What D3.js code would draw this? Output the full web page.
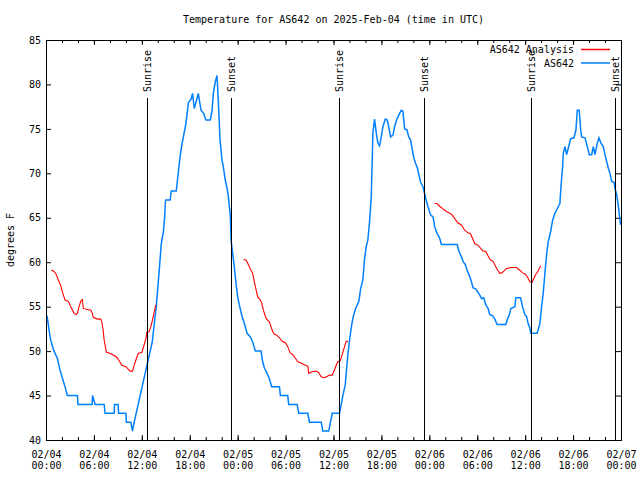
<!DOCTYPE html>
<html><head><meta charset="utf-8">
<script src="https://cdn.jsdelivr.net/npm/d3@7"></script>
<style>
body{margin:0;background:#fff}
text{font-family:"DejaVu Sans Mono",monospace;font-size:10px;fill:#000}
</style>
</head><body>
<svg id="c" width="640" height="480"></svg>
<script>
// ---- data (hours since 2025-02-04 00:00 UTC, temperature in °F) ----
const obsHours = [0.13,0.38,0.59,1.00,1.42,1.72,2.04,2.38,2.67,3.93,4.01,5.77,5.83,6.15,7.28,7.40,8.53,8.59,9.03,9.09,10.00,10.07,10.62,10.83,11.04,11.29,11.54,11.79,12.04,12.29,12.54,12.79,13.05,13.30,13.55,13.80,13.99,14.17,14.43,14.71,14.89,14.93,14.99,15.55,15.68,16.31,16.43,16.68,16.81,16.97,17.31,17.52,17.65,17.85,18.15,18.35,18.57,18.78,19.07,19.19,19.41,19.73,20.03,20.57,20.79,20.95,21.20,21.41,21.49,21.61,21.79,22.04,22.20,22.45,22.67,22.83,22.96,23.08,23.17,23.37,23.58,23.80,24.00,24.21,24.55,24.84,25.18,25.59,25.88,26.22,26.93,27.13,27.35,27.68,27.97,28.26,29.23,29.35,30.27,30.39,31.45,31.65,32.78,32.99,34.46,34.66,35.41,35.62,35.84,36.75,36.97,37.17,37.47,37.59,37.80,38.01,38.22,38.42,38.76,39.18,39.39,39.68,39.89,40.10,40.30,40.52,40.73,40.86,40.93,41.14,41.36,41.56,41.77,41.98,42.19,42.49,42.74,42.94,43.15,43.44,43.65,43.94,44.28,44.49,44.69,44.91,45.20,45.41,45.66,45.87,46.07,46.29,46.50,46.70,46.91,47.20,47.54,47.83,48.17,48.46,48.67,48.96,49.30,49.51,51.49,51.72,52.02,52.22,52.52,52.77,53.06,53.27,53.48,53.81,54.32,54.53,54.82,55.07,55.36,55.57,55.91,56.20,56.49,57.58,57.79,57.99,58.20,58.71,58.83,59.42,59.67,59.96,60.17,60.37,60.59,60.71,61.50,61.84,62.06,62.26,62.47,62.68,62.88,63.18,63.43,63.72,64.06,64.35,64.48,64.69,64.77,64.98,65.19,65.39,65.69,66.11,66.36,66.52,66.77,66.95,67.07,67.49,67.78,68.03,68.33,68.53,68.74,69.03,69.24,69.49,69.78,70.00,70.21,70.41,70.62,70.84,71.12,71.25,71.46,71.66,71.79,71.96];
const obsTemp = [54,52.4,51.2,50,49.2,48,47,46,45,45,44,44,45,44,44,43,43,44,44,43,43,42,42,41,42,43,44,45,46,47,48,49,50,51,53,55,57,59,62,63.5,65.5,66.6,67,67,68,68,69,71,72,73,74.6,75.6,76.6,78,78.3,79,77.3,78,79,78.3,77.1,76.75,76,76,77,79,80.3,81,79.7,77.5,73.75,71.5,70.75,69.25,68.3,67.4,66.25,65.3,62.5,61,59.5,57.6,56.1,55.2,53.9,53.1,52,51.6,51,50,50,48.8,48.1,47.5,46.9,46,46,45,45,44,44,43,43,42,42,41,41,42,43,43,44,45,46.2,47.5,49.6,51.25,52.6,53.7,54.8,55.6,57,58,60.4,61.75,62.5,64.6,67.4,71.9,74.5,76.1,74.5,73.4,73.1,74.1,75.25,76.1,76,75.1,74.1,74.3,75.25,76.1,76.75,77.1,77,75,74.9,74.1,73.75,72.6,71.7,71.1,70.6,69.8,69,68.5,67.2,66.25,65.3,65.1,64,63.25,62.7,62,62,61.2,60.6,60.1,59.7,59,58.4,57.8,57.1,57,56.3,55.9,56,55.2,54.8,54.1,54,53.6,53,53,53.6,54,54.8,55,56,56,55,54.1,53.9,53.1,52.6,52,52,53.1,55,56.5,58.75,60.8,62.3,63.4,64.7,65.5,66.1,66.6,68.5,70.75,72.25,73,72.1,72.8,73.9,74,74.9,77.1,77.1,74.9,74.1,74,73,72.1,72.1,73,72.1,73.4,74,73.4,73,72.1,71.3,70.6,70,69.1,69,68.3,67.6,66.4,65.3,64.2];

const ana1Hours = [0.66,1.00,1.29,1.54,1.84,2.04,2.38,2.80,3.10,3.51,3.73,3.93,4.14,4.35,4.55,4.68,5.06,5.61,5.81,5.90,6.44,6.86,6.99,7.15,7.28,7.56,8.12,8.66,8.94,9.24,9.50,10.00,10.32,10.54,10.83,11.04,11.33,11.58,12.00,12.29,12.51,12.63,12.92,13.13,13.33,13.55,13.76];
const ana1Temp = [59.1,59,58.6,58,57.4,56.7,55.75,55.6,55,54.25,54.1,54.25,55,55.6,55.8,54.8,54.7,54.6,54.25,53.8,53.6,53.6,53.3,52.4,51.25,49.9,49.7,49.45,49.2,48.8,48.4,48.25,47.95,47.75,47.75,48.4,49.2,49.75,49.85,50.7,51.4,52.1,52.2,52.75,53.5,54.4,55.2];
const ana2Hours = [24.75,25.05,25.25,25.55,25.88,26.09,26.31,26.51,26.81,27.01,27.22,27.47,27.63,27.97,28.19,28.39,28.60,28.89,29.23,29.57,29.98,30.27,30.57,30.90,31.23,31.52,31.86,32.49,32.78,32.90,33.40,33.83,34.12,34.46,34.78,35.09,35.50,35.84,36.13,36.34,36.54,36.84,37.09,37.38,37.59,37.80];
const ana2Temp = [60.3,60.25,59.9,59.3,58.75,57.8,56.9,56.1,55.8,55.4,54.6,53.9,53.6,53.3,52.7,52.2,51.9,51.8,51.5,51.1,50.95,50.5,49.8,49.6,49.2,48.8,48.7,48.4,48.3,47.5,47.7,47.75,47.6,47.1,47,47.1,47.3,47.3,47.9,48.4,48.8,48.9,49.6,50.5,51.1,51.1];
const ana3Hours = [48.67,48.96,49.30,49.71,50.14,50.55,50.89,51.18,51.59,52.02,52.43,52.85,53.15,53.40,53.69,54.10,54.40,54.65,55.07,55.36,55.66,55.98,56.20,56.49,56.82,57.04,57.33,57.66,58.29,58.92,59.33,59.67,59.96,60.25,60.59,60.88,61.09,61.30,61.55,61.84,61.97];
const ana3Temp = [66.6,66.6,66.3,66,65.7,65.5,65.3,64.9,64.4,64.2,63.6,63.3,63.2,62.7,62.1,61.9,61.6,61.3,61.2,60.7,60.25,60.1,59.7,59.2,58.75,58.8,59,59.3,59.4,59.4,59.1,58.8,58.7,58.4,57.8,57.75,58.2,58.6,58.9,59.4,59.6];

const sunriseHours = [12.70, 36.65, 60.70];
const sunsetHours  = [23.20, 47.30, 71.20];
const yTicks = [40,45,50,55,60,65,70,75,80,85];
const seriesNames = ["AS642 Analysis", "AS642"];
const titleText = "Temperature for AS642 on 2025-Feb-04 (time in UTC)";
const yLabel = "degrees F";

// ---- chart ----
const svg = d3.select("#c");
const L=46, R=621, T=40, B=440;
const t0 = Date.UTC(2025,1,4);
const toDate = h => new Date(t0 + h*3600e3);
const x = d3.scaleUtc().domain([toDate(0), toDate(72)]).range([L, R]);
const y = d3.scaleLinear().domain([40, 85]).range([B, T]);
const RED = "#ff0000", BLUE = "#0080ff";

const zip = (hs, ts) => hs.map((h,i)=>({d:toDate(h), v:ts[i]}));
const line = d3.line().x(p=>x(p.d)).y(p=>y(p.v));

// minor ticks
const fmtD = d3.utcFormat("%m/%d"), fmtT = d3.utcFormat("%H:%M");
svg.append("g").attr("transform",`translate(0,${B})`)
  .call(d3.axisBottom(x).ticks(d3.utcHour.every(2)).tickSize(-3).tickFormat(""))
  .call(g=>g.select(".domain").remove());
svg.append("g").attr("transform",`translate(0,${T})`)
  .call(d3.axisTop(x).ticks(d3.utcHour.every(2)).tickSize(-3).tickFormat(""))
  .call(g=>g.select(".domain").remove());
// major x
const gx = svg.append("g").attr("transform",`translate(0,${B})`)
  .call(d3.axisBottom(x).ticks(d3.utcHour.every(6)).tickSize(-5).tickPadding(0).tickFormat(""))
  .call(g=>g.select(".domain").remove());
gx.selectAll(".tick text").each(function(d){
  const t = d3.select(this).attr("dy",null).attr("y",null)
    .style("font-family",'"DejaVu Sans Mono",monospace').style("font-size","10px");
  t.append("tspan").attr("x",0).attr("y",18).text(fmtD(d));
  t.append("tspan").attr("x",0).attr("y",29).text(fmtT(d));
});
svg.append("g").attr("transform",`translate(0,${T})`)
  .call(d3.axisTop(x).ticks(d3.utcHour.every(6)).tickSize(-5).tickFormat(""))
  .call(g=>g.select(".domain").remove());
// y axes
svg.append("g").attr("transform",`translate(${L},0)`)
  .call(d3.axisLeft(y).tickValues(yTicks).tickSize(-5).tickPadding(5).tickFormat(d3.format("d")))
  .call(g=>g.select(".domain").remove())
  .call(g=>g.selectAll("text").style("font-family",'"DejaVu Sans Mono",monospace').style("font-size","10px"));
svg.append("g").attr("transform",`translate(${R},0)`)
  .call(d3.axisRight(y).tickValues(yTicks).tickSize(-5).tickFormat(""))
  .call(g=>g.select(".domain").remove());

// data lines
svg.append("path").datum(zip(obsHours, obsTemp)).attr("d", line)
  .attr("fill","none").attr("stroke",BLUE).attr("stroke-width",1.5);
[[ana1Hours,ana1Temp],[ana2Hours,ana2Temp],[ana3Hours,ana3Temp]].forEach(([h,t])=>{
  svg.append("path").datum(zip(h,t)).attr("d", line)
    .attr("fill","none").attr("stroke",RED).attr("stroke-width",1.1);
});

// sun event lines
const events = sunriseHours.map(h=>({h, name:"Sunrise"}))
  .concat(sunsetHours.map(h=>({h, name:"Sunset"})));
events.forEach(e=>{
  const xp = Math.round(x(toDate(e.h))) + 0.5;
  svg.append("line").attr("x1",xp).attr("x2",xp).attr("y1",B).attr("y2",98)
    .attr("stroke","#000").attr("stroke-width",1);
  svg.append("text").attr("transform",`translate(${xp},92) rotate(-90)`)
    .attr("dy","0.35em").attr("text-anchor","start").text(e.name);
});

// border
svg.append("rect").attr("x",L+0.5).attr("y",T+0.5).attr("width",R-L).attr("height",B-T)
  .attr("fill","none").attr("stroke","#000").attr("stroke-width",1);

// title, y label
svg.append("text").attr("x",(L+R)/2).attr("y",23).attr("text-anchor","middle").text(titleText);
svg.append("text").attr("transform","translate(10,240) rotate(-90)")
  .attr("text-anchor","middle").attr("dy","0.35em").text(yLabel);

// legend
[[seriesNames[0],RED,49.5],[seriesNames[1],BLUE,63]].forEach(([n,c,yy])=>{
  svg.append("text").attr("x",574).attr("y",yy).attr("dy","0.35em").attr("text-anchor","end").text(n);
  svg.append("line").attr("x1",581).attr("x2",610).attr("y1",yy).attr("y2",yy)
    .attr("stroke",c).attr("stroke-width",1.5);
});
</script>
</body></html>
